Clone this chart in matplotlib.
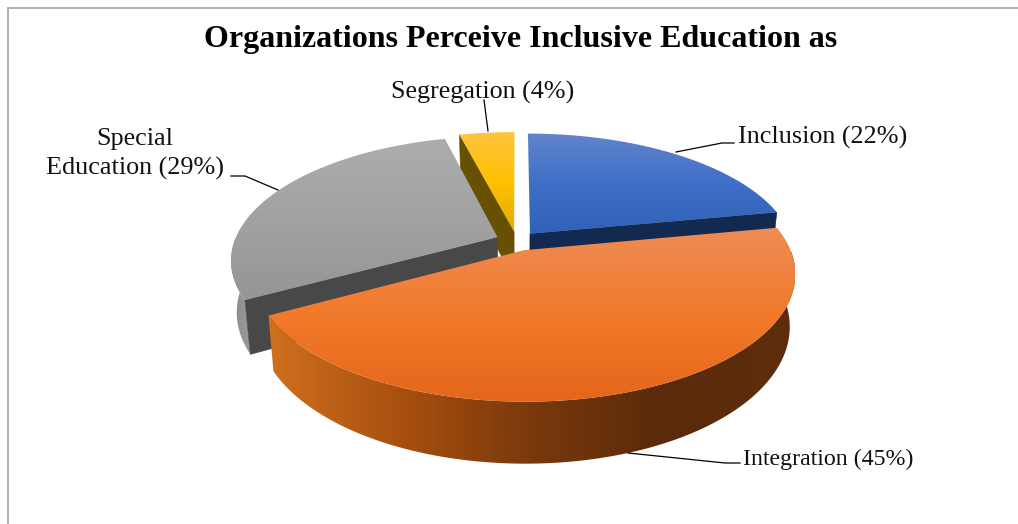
# plot.py - exploded 3D-style pie of how organizations perceive inclusive education
import numpy as np
import matplotlib
matplotlib.use("Agg")
import matplotlib.pyplot as plt
from matplotlib.colors import LinearSegmentedColormap
from matplotlib.patches import Polygon

TITLE = "Organizations Perceive Inclusive Education as"
categories = ["Inclusion", "Integration", "Special\nEducation", "Segregation"]
shares = [22, 45, 29, 4]

W, H = 1018, 524
CX, CY = 516.7, 241.0   # centre of the unexploded pie
RX, RY = 263.0, 120.5
TILT = 0.18             # perspective strength
THICK = 50.0
EXPLODE = 0.08

# top gradient (back to front), wall gradient (left to right), cut face colour
styles = {
    "Inclusion": (["#6284cb", "#3f6fc8", "#2f62b6"], ["#223f78", "#223f78"], "#14294f"),
    "Integration": (["#ee8c55", "#f27a2a", "#e4661a"],
                    ["#d0701f", "#a8500f", "#7a390c", "#5a2a0a", "#5e2d0c"], "#5a2a0a"),
    "Special\nEducation": (["#adadad", "#a2a2a2", "#959595"], ["#8a8a8a", "#9c9c9c"], "#484848"),
    "Segregation": (["#fcc53f", "#ffc000", "#e2ae00"], ["#675000", "#675000"], "#675000"),
}

layer = 1  # images and patches share one painter's stack


def next_layer():
    global layer
    layer += 1
    return layer


def project(u, v, lower=False):
    s = 1.0 / (1.0 - TILT * v)
    x = CX + RX * u * s
    y = CY + RY * v * s
    if lower:
        x = CX + (x - CX) * 0.98
        y = y + THICK * s
    return x, y


def gradient_fill(ax, pts, colors, horizontal=False):
    patch = Polygon(pts, closed=True, facecolor="none", edgecolor="none")
    ax.add_patch(patch)
    cmap = LinearSegmentedColormap.from_list("g", colors)
    ramp = np.linspace(0, 1, 256)
    ramp = ramp[None, :] if horizontal else ramp[:, None]
    xs, ys = pts[:, 0], pts[:, 1]
    im = ax.imshow(ramp, cmap=cmap, aspect="auto", interpolation="bilinear",
                   extent=(xs.min(), xs.max(), ys.max(), ys.min()), origin="upper",
                   zorder=next_layer())
    im.set_clip_path(patch)


def draw_slice(ax, name, a0, a1):
    top_cols, wall_cols, cut_col = styles[name]
    mid = (a0 + a1) / 2
    ex, ey = EXPLODE * np.sin(mid), -EXPLODE * np.cos(mid)
    t = np.linspace(a0, a1, 200)
    u, v = ex + np.sin(t), ey - np.cos(t)

    top_x, top_y = project(u, v)
    low_x, low_y = project(u, v, lower=True)
    ax_t, ay_t = project(np.array([ex]), np.array([ey]))
    ax_b, ay_b = project(np.array([ex]), np.array([ey]), lower=True)

    # outer wall, front half of the rim only
    front = np.cos(t) < 0
    if front.sum() > 1:
        wall = np.column_stack([np.r_[top_x[front], low_x[front][::-1]],
                                np.r_[top_y[front], low_y[front][::-1]]])
        gradient_fill(ax, wall, wall_cols, horizontal=True)

    # cut faces, only the ones turned towards the viewer
    for i, facing in ((0, -np.sin(a0)), (-1, np.sin(a1))):
        if facing > 1e-6:
            quad = [(ax_t[0], ay_t[0]), (top_x[i], top_y[i]), (low_x[i], low_y[i]), (ax_b[0], ay_b[0])]
            ax.add_patch(Polygon(quad, closed=True, facecolor=cut_col, edgecolor=cut_col,
                                 linewidth=0.4, zorder=next_layer()))

    # top face
    face = np.column_stack([np.r_[ax_t, top_x], np.r_[ay_t, top_y]])
    gradient_fill(ax, face, top_cols)


fig = plt.figure(figsize=(W / 100, H / 100), dpi=100, facecolor="white")
ax = fig.add_axes([0, 0, 1, 1])

fracs = np.array(shares) / sum(shares)
edges = np.r_[0, np.cumsum(fracs)] * 2 * np.pi
spans = {c: (edges[i], edges[i + 1]) for i, c in enumerate(categories)}

# painter's order: back slices first, the big front slice last
for name in ["Segregation", "Special\nEducation", "Inclusion", "Integration"]:
    draw_slice(ax, name, *spans[name])

ax.set_xlim(0, W)
ax.set_ylim(H, 0)
ax.axis("off")

# chart frame
ax.plot([8, 8, W], [H, 8, 8], color="#a9a9a9", lw=1.3, solid_joinstyle="miter", zorder=100)

serif = "Liberation Serif"
ax.text(521, 40, TITLE, family=serif, weight="bold", fontsize=23, ha="center", va="center", color="black", zorder=100)

labels = [f"{c} ({s}%)" for c, s in zip(categories, shares)]
ax.text(738, 137, labels[0], family=serif, fontsize=18.8, ha="left", va="center", color="#111111", zorder=100)
ax.text(743, 459, labels[1], family=serif, fontsize=17.2, ha="left", va="center", color="#111111", zorder=100)
ax.text(135, 154, labels[2], family=serif, fontsize=18.8, ha="center", va="center", color="#111111", linespacing=1.34, zorder=100)
ax.text(483, 92, labels[3], family=serif, fontsize=18.8, ha="center", va="center", color="#111111", zorder=100)

# leader lines
for xs, ys in [([676, 722, 734], [152, 143, 143]),
               ([628, 725, 740], [453, 463, 463]),
               ([278, 245, 231], [190, 176, 176]),
               ([488, 484], [131, 100])]:
    ax.plot(xs, ys, color="black", lw=0.9, zorder=99)

fig.savefig("out.png", dpi=100)
